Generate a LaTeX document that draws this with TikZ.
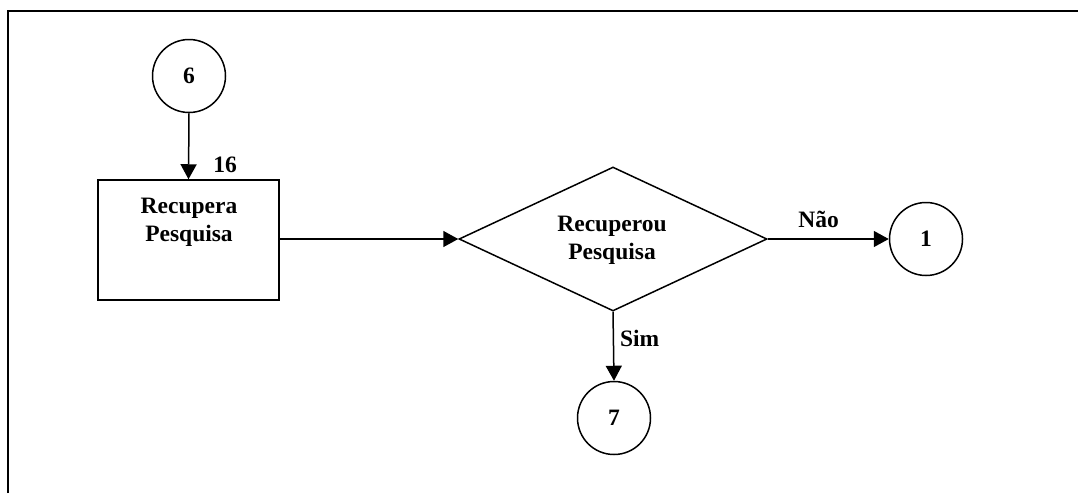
\documentclass[tikz,border=0pt]{standalone}
\usepackage{fontspec}
\setmainfont{Liberation Serif}
\usetikzlibrary{shapes.geometric,arrows.meta}
\begin{document}
\begin{tikzpicture}[x=1pt,y=-1pt,
  every node/.style={font=\fontsize{23.5}{28}\selectfont\bfseries},
  conn/.style={circle,draw,line width=1.5pt,minimum size=73pt,inner sep=0pt},
  procbox/.style={rectangle,draw,line width=1.5pt,minimum width=181pt,minimum height=120pt,inner sep=0pt},
  decide/.style={diamond,draw,line width=1.5pt,minimum width=308pt,minimum height=144pt,inner sep=0pt},
  flow/.style={line width=1.5pt,-{Triangle[length=15pt,width=16pt]}},
  lbl/.style={inner sep=0pt}]
  % page area and frame (top and left edges)
  \useasboundingbox (0,0) rectangle (1078,493);
  \draw[line width=2.2pt] (8,493) -- (8,11) -- (1078,11);

  % nodes
  \node[conn] (c6) at (189,76) {6};
  \node[procbox] (box) at (188.5,240) {};
  \node[lbl,align=center] (boxtxt) at (189,222) {Recupera\\Pesquisa};
  \node[decide] (dia) at (613,239) {};
  \node[lbl,align=center] (diatxt) at (612,240) {Recuperou\\Pesquisa};
  \node[conn] (c1) at (926,239) {1};
  \node[conn] (c7) at (614,418) {7};

  % connectors
  \draw[flow] (c6.south) -- (box.north);
  \node[lbl,anchor=base] (n16) at (225,172) {16};
  \draw[flow] (box.east |- dia.west) -- (dia.west);
  \draw[flow] (dia.east) -- node[lbl,pos=0.42,above=11pt] (nao) {Não} (c1.west);
  \draw[flow] (dia.south) -- node[lbl,pos=0.38,right=6pt] (sim) {Sim} (c7.north);
\end{tikzpicture}
\end{document}
